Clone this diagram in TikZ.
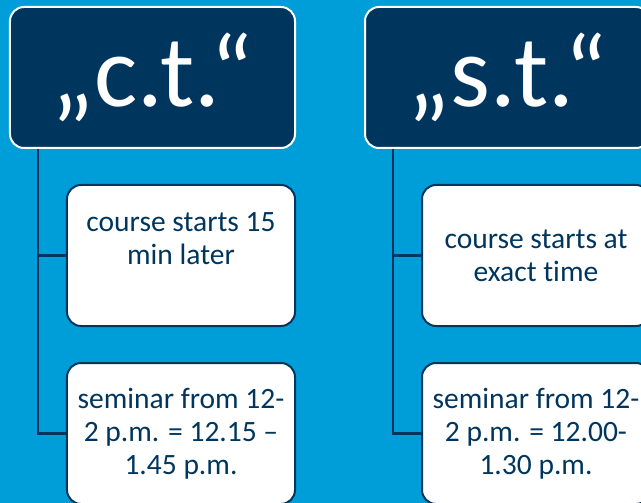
\documentclass[tikz,border=0pt]{standalone}
\usepackage{fontspec}
\setmainfont{Carlito}[Ligatures=NoCommon]
\usetikzlibrary{trees}
\definecolor{skyblue}{RGB}{0,158,216}
\definecolor{navyblue}{RGB}{0,54,94}
\tikzset{
  headbox/.style={rectangle, rounded corners=14bp, fill=navyblue, draw=white,
    line width=2bp, text=white, minimum width=285bp, minimum height=141bp,
    inner sep=0pt, font=\fontsize{102bp}{106bp}\selectfont},
  itembox/.style={rectangle, rounded corners=14bp, fill=white, draw=navyblue,
    line width=2bp, text=navyblue, minimum width=228bp, minimum height=141bp,
    inner sep=0pt, align=center, font=\fontsize{29.5bp}{33bp}\selectfont},
  hook/.style={draw=navyblue, line width=2.5bp}
}
\begin{document}
\begin{tikzpicture}[x=1bp, y=-1bp,
    edge from parent/.style={hook},
    edge from parent path={([xshift=29bp]\tikzparentnode.south west) |- (\tikzchildnode.west)},
    grow via three points={one child at (28.5,178) and two children at (28.5,178) and (28.5,356)}]
  \path[use as bounding box, fill=skyblue] (0,0) rectangle (641,503);
  \clip (0,0) rectangle (641,503);
  \node[headbox] (ct) at (152.5,77.5) {„c.t.“}
    child { node[itembox] (ct1) {course starts 15\\min later\\\mbox{}} }
    child { node[itembox] (ct2) {seminar from 12-\\2 p.m. = 12.15 –\\1.45 p.m.} };
  \node[headbox] (st) at (507.5,77.5) {„s.t.“}
    child { node[itembox] (st1) {course starts at\\exact time} }
    child { node[itembox] (st2) {seminar from 12-\\2 p.m. = 12.00-\\1.30 p.m.} };
\end{tikzpicture}
\end{document}
